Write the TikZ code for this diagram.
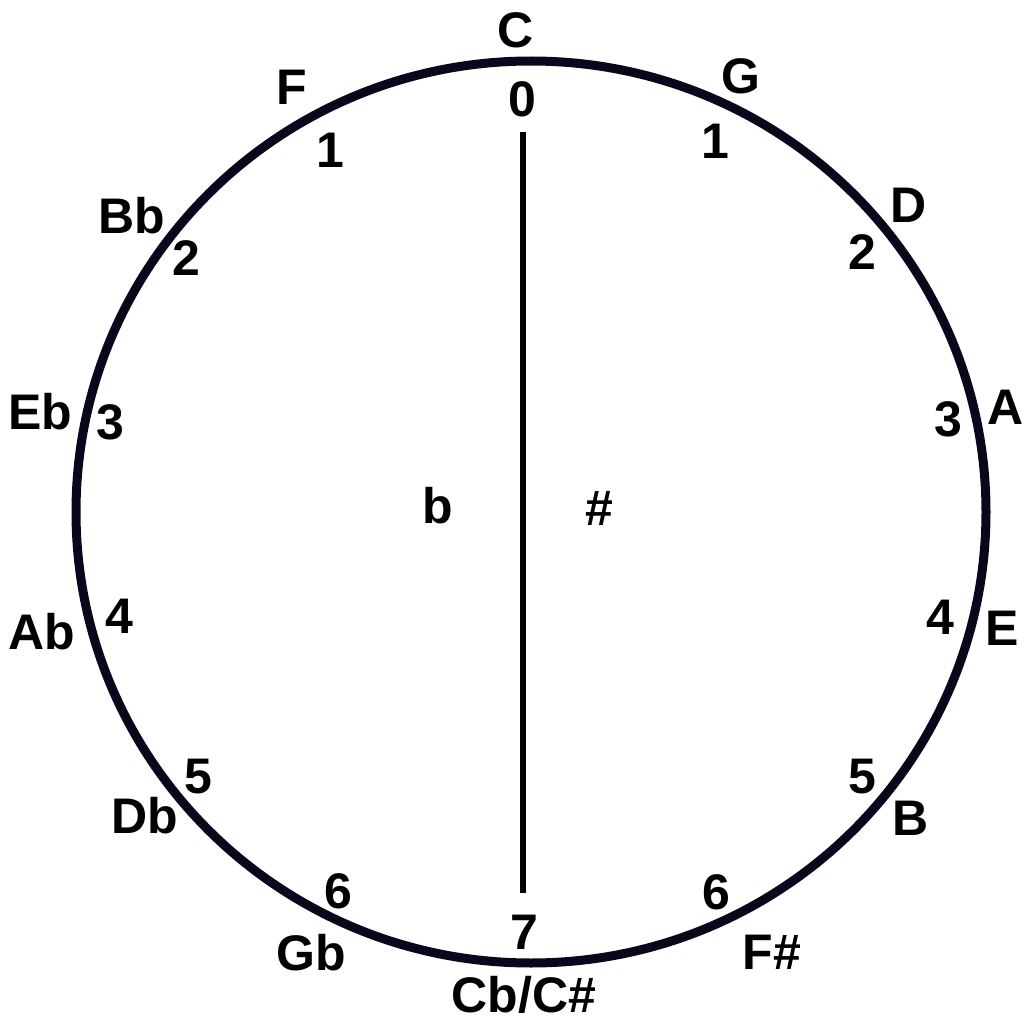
\documentclass[tikz,border=0pt]{standalone}
\usepackage{fontspec}
\setmainfont{Liberation Sans}
\definecolor{ringcol}{RGB}{8,8,28}
\begin{document}
\begin{tikzpicture}[x=1pt,y=-1pt,
  lbl/.style={inner sep=0pt,text height=35pt,text depth=0pt,anchor=center,
    font=\fontsize{50}{50}\selectfont\bfseries},
  ring/.style={draw=ringcol,line width=9pt},
  axis/.style={draw=black,line width=5.5pt}]
\useasboundingbox (0,0) rectangle (1026,1022);
\draw[ring] (531,512) ellipse [x radius=455, y radius=451];
\coordinate (ltop) at (523,132);
\coordinate (lbot) at (523,893);
\draw[axis] (ltop) -- (lbot);
% outer key names
\node[lbl] (nC)  at (516,30)  {C};
\node[lbl] (nG)  at (741,76)  {G};
\node[lbl] (nD)  at (909,205) {D};
\node[lbl] (nA)  at (1006,407) {A};
\node[lbl] (nE)  at (1002,628) {E};
\node[lbl] (nB)  at (911,818) {B};
\node[lbl] (nFs) at (772,952) {F\#};
\node[lbl] (nCb) at (524,995) {Cb/C\#};
\node[lbl] (nGb) at (311,953) {Gb};
\node[lbl] (nDb) at (145,816) {Db};
\node[lbl] (nAb) at (42,632)  {Ab};
\node[lbl] (nEb) at (40,412)  {Eb};
\node[lbl] (nBb) at (132,216) {Bb};
\node[lbl] (nF)  at (292,87)  {F};
% counts
\node[lbl] (d0)  at (522,99)  {0};
\node[lbl] (r1)  at (715,141) {1};
\node[lbl] (r2)  at (862,252) {2};
\node[lbl] (r3)  at (948,419) {3};
\node[lbl] (r4)  at (940,617) {4};
\node[lbl] (r5)  at (862,776) {5};
\node[lbl] (r6)  at (716,892) {6};
\node[lbl] (d7)  at (524,932) {7};
\node[lbl] (l6)  at (338,891) {6};
\node[lbl] (l5)  at (198,776) {5};
\node[lbl] (l4)  at (119,616) {4};
\node[lbl] (l3)  at (110,422) {3};
\node[lbl] (l2)  at (186,258) {2};
\node[lbl] (l1)  at (330,150) {1};
% sides
\node[lbl] (flat)  at (438,506) {b};
\node[lbl] (sharp) at (599,508) {\#};
\end{tikzpicture}
\end{document}
